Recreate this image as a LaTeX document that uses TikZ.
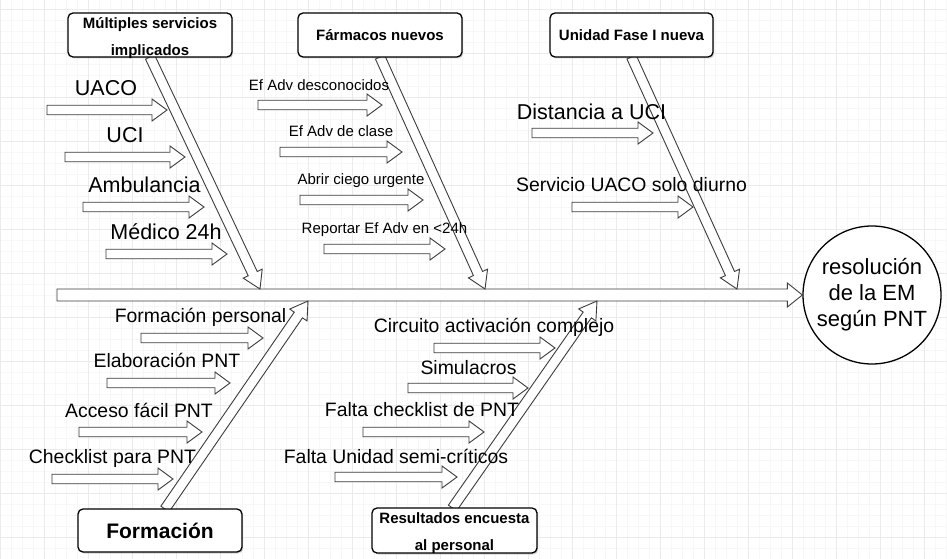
\documentclass[tikz,border=0pt]{standalone}
\usepackage{fontspec}
\setmainfont{Liberation Sans}
\usetikzlibrary{calc,shadows}

\definecolor{gridminor}{HTML}{F7F7F7}
\definecolor{gridmajor}{HTML}{EBEBEB}
\definecolor{arrowgray}{HTML}{3C3C3C}

\tikzset{
  arrowbody/.style={draw=arrowgray, fill=white, line width=0.9pt, line join=miter},
  catbox/.style={draw=black, fill=white, line width=1.3pt, rounded corners=5pt,
    inner sep=0pt, align=center,
    drop shadow={shadow xshift=1.2pt, shadow yshift=-1.5pt, opacity=0.35}},
  cattext/.style={font=\bfseries\fontsize{15}{27}\selectfont, align=center, inner sep=0pt},
  bigcause/.style={font=\fontsize{21.5}{25}\selectfont, inner sep=0pt},
  midcause/.style={font=\fontsize{19.4}{23}\selectfont, inner sep=0pt},
  smallcause/.style={font=\fontsize{15}{18}\selectfont, inner sep=0pt},
}

% hollow block arrow: #1 start, #2 tip, #3 shaft half-width, #4 head half-width, #5 head length
\newcommand{\hollowarrow}[5]{%
  \coordinate (ha-base) at ($(#2)!#5!(#1)$);
  \filldraw[arrowbody]
    ($(#1)!#3!90:(#2)$) --
    ($(ha-base)!#3!90:(#2)$) --
    ($(ha-base)!#4!90:(#2)$) --
    (#2) --
    ($(ha-base)!#4!-90:(#2)$) --
    ($(ha-base)!#3!-90:(#2)$) --
    ($(#1)!#3!-90:(#2)$) -- cycle;
}
\newcommand{\causearrow}[2]{\hollowarrow{#1}{#2}{4.75pt}{11pt}{15pt}}
\newcommand{\bonearrow}[2]{\hollowarrow{#1}{#2}{5pt}{10.5pt}{17pt}}

\begin{document}
\begin{tikzpicture}[x=1pt, y=-1pt]
\useasboundingbox (0,0) rectangle (947,559);
\fill[white] (0,0) rectangle (947,559);

% background grid
\foreach \x in {0,11,...,946} \draw[gridminor, line width=0.6pt] (\x,0) -- (\x,559);
\foreach \y in {-1.7,9.3,...,559} \draw[gridminor, line width=0.6pt] (0,\y) -- (947,\y);
\foreach \x in {0,44,...,946} \draw[gridmajor, line width=0.8pt] (\x,0) -- (\x,559);
\foreach \y in {9.3,53.3,...,559} \draw[gridmajor, line width=0.8pt] (0,\y) -- (947,\y);

% effect
\node[draw=black, line width=1.3pt, fill=white, circle, minimum size=138pt, inner sep=0pt,
      align=center, font=\fontsize{22}{26}\selectfont] (effect) at (872,295)
      {resolución\\de la EM\\según PNT};

% spine
\coordinate (tail) at (57,295);
\hollowarrow{tail}{effect.west}{6pt}{12pt}{15pt}

% bone tips on the spine
\coordinate (t1) at (260,289);
\coordinate (t2) at (485,289);
\coordinate (t3) at (737,289);
\coordinate (t4) at (308,301);
\coordinate (t5) at (597,301);

% category box positions and the points where the bones leave them
\path (150,35) coordinate (c1pos) (380,35) coordinate (c2pos) (631.5,35) coordinate (c3pos)
      (160,530.5) coordinate (c4pos) (454.5,530.5) coordinate (c5pos);
\path (c1pos) +(0,22) coordinate (c1s);
\path (c2pos) +(0,22) coordinate (c2s);
\path (c3pos) +(0,22) coordinate (c3s);
\path (c4pos) +(5,-21.5) coordinate (c4n);
\path (c5pos) +(-2,-22.5) coordinate (c5n);

% bones
\bonearrow{c1s}{t1}
\bonearrow{c2s}{t2}
\bonearrow{c3s}{t3}
\bonearrow{c4n}{t4}
\bonearrow{c5n}{t5}

\node[catbox, minimum width=164pt, minimum height=44pt] (cat1) at (c1pos) {};
\node[cattext] at ([yshift=-3.5pt]cat1.center) {Múltiples servicios\\implicados};
\node[catbox, minimum width=164pt, minimum height=44pt, font=\bfseries\fontsize{15}{18}\selectfont] (cat2) at (c2pos) {Fármacos nuevos};
\node[catbox, minimum width=163pt, minimum height=44pt, font=\bfseries\fontsize{15}{18}\selectfont] (cat3) at (c3pos) {Unidad Fase I nueva};
\node[catbox, minimum width=164pt, minimum height=43pt, font=\bfseries\fontsize{21}{25}\selectfont] (cat4) at (c4pos) {Formación};
\node[catbox, minimum width=165pt, minimum height=45pt] (cat5) at (c5pos) {};
\node[cattext] at ([yshift=-3pt]cat5.center) {Resultados encuesta\\al personal};

% cause arrows: Múltiples servicios implicados
\path (47,110) coordinate (a1s) (167,110) coordinate (a1t)
      (65,157) coordinate (a2s) (185,157) coordinate (a2t)
      (83,207) coordinate (a3s) (204,207) coordinate (a3t)
      (106,254) coordinate (a4s) (227,254) coordinate (a4t);
% Fármacos nuevos
\path (258,105) coordinate (b1s) (382,105) coordinate (b1t)
      (280,152) coordinate (b2s) (402,152) coordinate (b2t)
      (300,200) coordinate (b3s) (423,200) coordinate (b3t)
      (324,249) coordinate (b4s) (445,249) coordinate (b4t);
% Unidad Fase I nueva
\path (532,133) coordinate (u1s) (653,133) coordinate (u1t)
      (572,207) coordinate (u2s) (693,207) coordinate (u2t);
% Formación
\path (141,338) coordinate (f1s) (263,338) coordinate (f1t)
      (107,383) coordinate (f2s) (230,383) coordinate (f2t)
      (79,432) coordinate (f3s) (202,432) coordinate (f3t)
      (52,479) coordinate (f4s) (173,479) coordinate (f4t);
% Resultados encuesta al personal
\path (434,348) coordinate (r1s) (555,348) coordinate (r1t)
      (408,388) coordinate (r2s) (528,388) coordinate (r2t)
      (363,432) coordinate (r3s) (484,432) coordinate (r3t)
      (335,477) coordinate (r4s) (457,477) coordinate (r4t);

\foreach \n in {a1,a2,a3,a4,b1,b2,b3,b4,u1,u2,f1,f2,f3,f4,r1,r2,r3,r4}
  {\causearrow{\n s}{\n t}}

% cause labels
\node[bigcause] (lUACO) at (106,88) {UACO};
\node[bigcause] (lUCI) at (125,135) {UCI};
\node[bigcause] (lAmb) at (144.5,185) {Ambulancia};
\node[bigcause] (lMed) at (166,232) {Médico 24h};

\node[smallcause] (lEf1) at (319,85) {Ef Adv desconocidos};
\node[smallcause] (lEf2) at (341,131) {Ef Adv de clase};
\node[smallcause] (lAbr) at (361,181) {Abrir ciego urgente};
\node[smallcause] (lRep) at (384.5,230) {Reportar Ef Adv en <24h};

\node[bigcause] (lDist) at (591.5,112) {Distancia a UCI};
\node[midcause] (lServ) at (631.5,185) {Servicio UACO solo diurno};

\node[midcause] (lFp) at (200.5,317) {Formación personal};
\node[midcause] (lEl) at (167,360) {Elaboración PNT};
\node[midcause] (lAc) at (139,410) {Acceso fácil PNT};
\node[midcause] (lCh) at (112.5,458) {Checklist para PNT};

\node[midcause] (lCi) at (494,327) {Circuito activación complejo};
\node[midcause] (lSi) at (468.5,368) {Simulacros};
\node[midcause] (lFc) at (422,410) {Falta checklist de PNT};
\node[midcause] (lFu) at (396,456) {Falta Unidad semi-críticos};
\end{tikzpicture}
\end{document}
